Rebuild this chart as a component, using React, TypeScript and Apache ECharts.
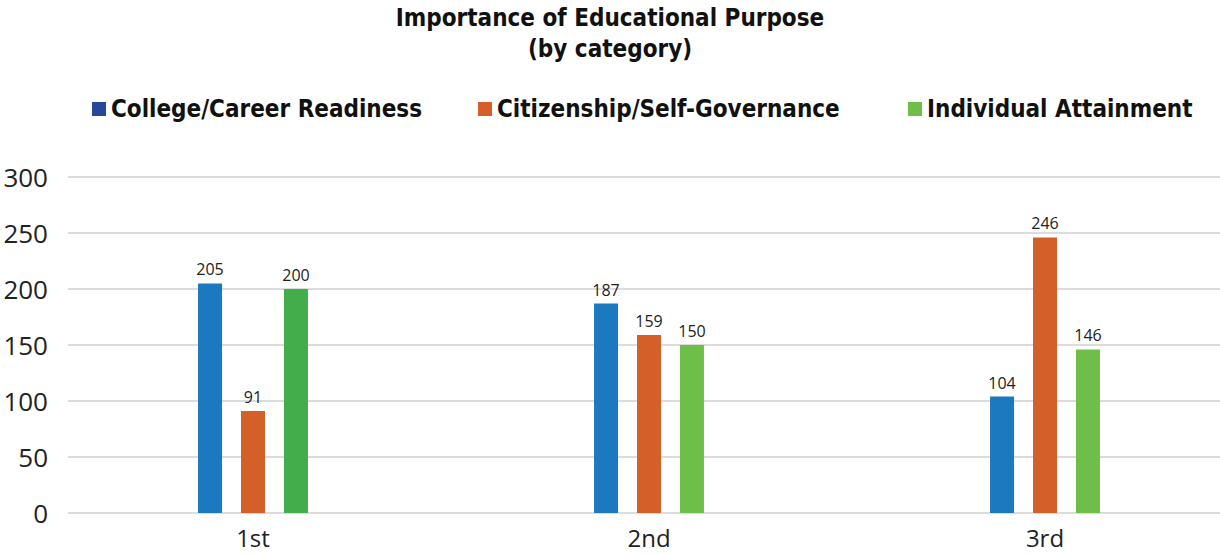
import React, { useEffect, useRef } from "react";
import * as echarts from "echarts";

const categories = ["1st", "2nd", "3rd"];
const seriesNames = ["College/Career Readiness", "Citizenship/Self-Governance", "Individual Attainment"];
const careerValues = [205, 187, 104];
const citizenshipValues = [91, 159, 246];
const attainmentValues = [200, 150, 146];
const yTicks = [0, 50, 100, 150, 200, 250, 300];

const BLUE = "#1B79BF";
const ORANGE = "#D45F29";
const GREEN = "#6DBF4A";
const GREEN_DARK = "#42AD4A";
const LEGEND_BLUE = "#27479A";
const BOLD_FONT = "'Liberation Sans Narrow', 'DejaVu Sans Condensed', Roboto, sans-serif";
const FONT = "'Open Sans', sans-serif";

export default function App() {
  const ref = useRef<HTMLDivElement>(null);
  useEffect(() => {
    document.body.style.margin = "0";
    if (!ref.current) return;
    const chart = echarts.init(ref.current, null, { renderer: "svg" });
    const label = {
      show: true,
      position: "top" as const,
      distance: 6,
      fontSize: 16,
      color: "#222",
      fontFamily: FONT,
    };
    const legendText = { fontSize: 24, fontWeight: "bold" as const, color: "#111", fontFamily: BOLD_FONT };
    const legendColors = [LEGEND_BLUE, ORANGE, GREEN];
    const legendLefts = [92, 478, 908];
    chart.setOption({
      animation: false,
      backgroundColor: "#fff",
      title: {
        text: "Importance of Educational Purpose\n(by category)",
        left: "center",
        top: 2,
        padding: 0,
        textStyle: { fontSize: 24, fontWeight: "bold", color: "#111", fontFamily: BOLD_FONT, lineHeight: 31 },
      },
      legend: seriesNames.map((n, i) => ({
        data: [{ name: n, itemStyle: { color: legendColors[i] } }],
        left: legendLefts[i],
        top: 97,
        padding: 0,
        icon: "rect",
        itemWidth: 14,
        itemHeight: 14,
        textStyle: legendText,
        selectedMode: false,
      })),
      grid: [
        { left: 68, right: 0, top: 177, bottom: 41, outerBoundsMode: "none", containLabel: false },
        { left: 55, width: 1188, top: 177, bottom: 41, outerBoundsMode: "none", containLabel: false },
      ],
      xAxis: [
        { type: "category", gridIndex: 0, data: categories, show: false },
        {
          type: "category",
          gridIndex: 1,
          data: categories,
          axisLine: { show: false },
          axisTick: { show: false },
          axisLabel: { fontSize: 24, lineHeight: 24, color: "#222", fontFamily: FONT, margin: 12 },
        },
      ],
      yAxis: [
        {
          type: "value",
          gridIndex: 0,
          min: yTicks[0],
          max: yTicks[yTicks.length - 1],
          interval: 50,
          axisLine: { show: false },
          axisTick: { show: false },
          axisLabel: { fontSize: 26, color: "#222", fontFamily: FONT, margin: 20 },
          splitLine: { lineStyle: { color: "#D0D0D0", width: 1.5 } },
        },
        {
          type: "value",
          gridIndex: 1,
          min: yTicks[0],
          max: yTicks[yTicks.length - 1],
          interval: 50,
          show: false,
          splitLine: { show: false },
        },
      ],
      series: [
        {
          name: seriesNames[0],
          type: "bar",
          xAxisIndex: 1,
          yAxisIndex: 1,
          data: careerValues,
          barWidth: 24,
          barGap: "79%",
          itemStyle: { color: BLUE },
          label,
        },
        {
          name: seriesNames[1],
          type: "bar",
          xAxisIndex: 1,
          yAxisIndex: 1,
          data: citizenshipValues,
          barWidth: 24,
          barGap: "79%",
          itemStyle: { color: ORANGE },
          label,
        },
        {
          name: seriesNames[2],
          type: "bar",
          xAxisIndex: 1,
          yAxisIndex: 1,
          data: attainmentValues.map((v, i) => (i === 0 ? { value: v, itemStyle: { color: GREEN_DARK } } : v)),
          barWidth: 24,
          barGap: "79%",
          itemStyle: { color: GREEN },
          label,
        },
      ],
    });
    return () => chart.dispose();
  }, []);
  return <div ref={ref} style={{ width: 1220, height: 554 }} />;
}
